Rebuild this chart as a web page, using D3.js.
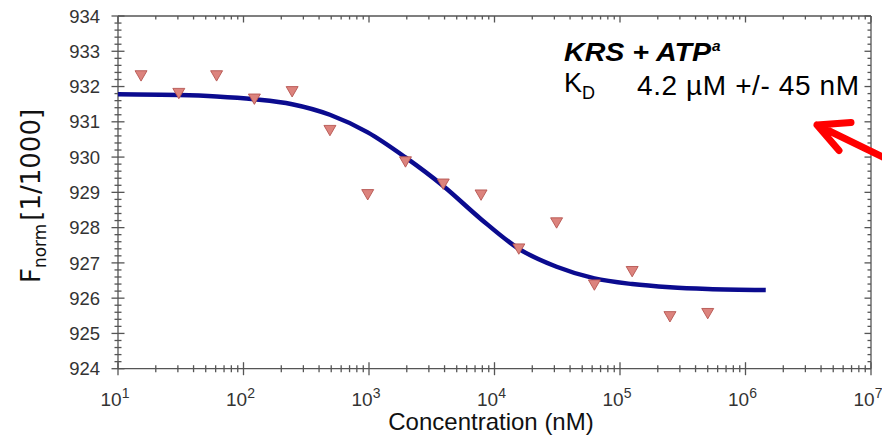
<!DOCTYPE html>
<html>
<head>
<meta charset="utf-8">
<script src="https://cdn.jsdelivr.net/npm/d3@7"></script>
<style>
  html, body { margin: 0; padding: 0; background: #fff; }
  svg { display: block; }
</style>
</head>
<body>
<svg id="chart" width="882" height="444"></svg>
<script>
// Ligand concentrations (nM) of the 1:1 dilution series
const concentrations = [15.26, 30.52, 61.04, 122.1, 244.1, 488.3, 976.6, 1953, 3906, 7813, 15625, 31250, 62500, 125000, 250000, 500000];
// Normalized fluorescence (per mille) measured at each concentration
const fnormValues = [932.35, 931.85, 932.35, 931.69, 931.90, 930.80, 928.98, 929.91, 929.28, 928.97, 927.44, 928.18, 926.42, 926.80, 925.52, 925.61];

// Fitted binding curve (concentration nM, Fnorm)
const fitConc = [10, 30.5, 61, 122, 244, 488, 977, 1953, 3906, 7813, 15625, 31250, 62500, 125000, 250000, 500000, 1450000];
const fitValue = [931.78, 931.76, 931.72, 931.64, 931.50, 931.20, 930.70, 929.99, 929.18, 928.24, 927.40, 926.89, 926.56, 926.40, 926.31, 926.26, 926.23];

// Axis ticks
const xDecades = [1, 2, 3, 4, 5, 6, 7];
const yTicks = [924, 925, 926, 927, 928, 929, 930, 931, 932, 933, 934];

const titleText = "KRS + ATP";
const titleSup = "a";
const kdLabel = "4.2 µM +/- 45 nM";

const svg = d3.select("#chart");

const x = d3.scaleLog().domain([10, 1e7]).range([118, 871]);
const y = d3.scaleLinear().domain([924, 934]).range([368.7, 16]);

const axisColor = "#555";
const labelColor = "#333";
const font = "'Liberation Sans', Arial, sans-serif";

// minor ticks on the log axis (2..9 × each decade)
const xMinor = [];
for (let d = 1; d < 7; d++) for (let m = 2; m <= 9; m++) xMinor.push(m * Math.pow(10, d));
const xMajor = xDecades.map(e => Math.pow(10, e));
const yMinor = d3.range(924, 934.001, 0.2).filter(v => Math.abs(v - Math.round(v)) > 1e-6);

const [x0, x1] = x.range();
const [yb, yt] = y.range();

const frame = svg.append("g").attr("stroke", axisColor).attr("stroke-width", 1.3).attr("fill", "none");
// frame lines
frame.append("line").attr("x1", x0).attr("x2", x1).attr("y1", yb).attr("y2", yb);
frame.append("line").attr("x1", x0).attr("x2", x1).attr("y1", yt).attr("y2", yt);
frame.append("line").attr("x1", x0).attr("x2", x0).attr("y1", yt).attr("y2", yb);
frame.append("line").attr("x1", x1).attr("x2", x1).attr("y1", yt).attr("y2", yb);

// bottom ticks: cross the axis
frame.selectAll(null).data(xMinor).join("line")
  .attr("x1", d => x(d)).attr("x2", d => x(d)).attr("y1", yb - 3.5).attr("y2", yb + 3.5);
frame.selectAll(null).data(xMajor).join("line")
  .attr("x1", d => x(d)).attr("x2", d => x(d)).attr("y1", yb - 6.5).attr("y2", yb + 6.5);
// top ticks: inward
frame.selectAll(null).data(xMinor).join("line")
  .attr("x1", d => x(d)).attr("x2", d => x(d)).attr("y1", yt).attr("y2", yt + 3.5);
frame.selectAll(null).data(xMajor).join("line")
  .attr("x1", d => x(d)).attr("x2", d => x(d)).attr("y1", yt).attr("y2", yt + 6.5);
// left ticks: cross the axis
frame.selectAll(null).data(yMinor).join("line")
  .attr("y1", d => y(d)).attr("y2", d => y(d)).attr("x1", x0 - 3.5).attr("x2", x0 + 3.5);
frame.selectAll(null).data(yTicks).join("line")
  .attr("y1", d => y(d)).attr("y2", d => y(d)).attr("x1", x0 - 6.5).attr("x2", x0 + 6.5);
// right ticks: inward
frame.selectAll(null).data(yMinor).join("line")
  .attr("y1", d => y(d)).attr("y2", d => y(d)).attr("x1", x1 - 3.5).attr("x2", x1);
frame.selectAll(null).data(yTicks).join("line")
  .attr("y1", d => y(d)).attr("y2", d => y(d)).attr("x1", x1 - 6.5).attr("x2", x1);

// y tick labels
svg.append("g").selectAll("text").data(yTicks).join("text")
  .attr("x", 100).attr("y", d => y(d)).attr("dy", "0.36em")
  .attr("text-anchor", "end")
  .attr("font-family", font).attr("font-size", 18.5).attr("fill", labelColor)
  .text(d => d);

// x tick labels: 10^n
const xl = svg.append("g").selectAll("text").data(xDecades).join("text")
  .attr("x", d => x(Math.pow(10, d)) - 3).attr("y", 406)
  .attr("text-anchor", "middle")
  .attr("font-family", font).attr("font-size", 19).attr("fill", labelColor);
xl.append("tspan").text("10");
xl.append("tspan").attr("font-size", 14).attr("dy", -8).text(d => d);

// axis titles
svg.append("text")
  .attr("x", 491).attr("y", 430).attr("text-anchor", "middle")
  .attr("font-family", font).attr("font-size", 24).attr("fill", "#111")
  .text("Concentration (nM)");

const yTitle = svg.append("text")
  .attr("transform", "translate(40,196) rotate(-90)")
  .attr("text-anchor", "middle")
  .attr("font-family", "'DejaVu Sans', sans-serif").attr("font-size", 26).attr("fill", "#111");
yTitle.append("tspan").text("F");
yTitle.append("tspan").attr("font-size", 17).attr("dy", 6).text("norm");
yTitle.append("tspan").attr("dy", -6).attr("dx", 3).text("[1/1000]");

// fitted curve
const line = d3.line()
  .x((d, i) => x(fitConc[i]))
  .y(d => y(d))
  .curve(d3.curveMonotoneX);
svg.append("path")
  .datum(fitValue)
  .attr("d", line)
  .attr("fill", "none")
  .attr("stroke", "#0b0b8f")
  .attr("stroke-width", 4.5);

// data points: downward triangles
const tri = d3.symbol().type(d3.symbolTriangle).size(62);
svg.append("g").selectAll("path").data(fnormValues).join("path")
  .attr("d", tri)
  .attr("transform", (d, i) => `translate(${x(concentrations[i])},${y(d)}) rotate(180)`)
  .attr("fill", "#dc837d")
  .attr("stroke", "#b65550")
  .attr("stroke-width", 0.9);

// annotation text
const t1 = svg.append("text")
  .attr("transform", "translate(564,61) scale(1.1,1)")
  .attr("font-family", font).attr("font-size", 26)
  .attr("font-weight", "bold").attr("font-style", "italic").attr("fill", "#000");
t1.append("tspan").text(titleText);
t1.append("tspan").attr("font-size", 14).attr("dy", -10).attr("dx", 1).text(titleSup);

const t2 = svg.append("text")
  .attr("x", 564).attr("y", 92)
  .attr("font-family", font).attr("font-size", 27).attr("fill", "#000");
t2.append("tspan").text("K");
t2.append("tspan").attr("font-size", 18).attr("dy", 7).text("D");
svg.append("text")
  .attr("x", 637).attr("y", 95)
  .attr("font-family", font).attr("font-size", 28).attr("letter-spacing", 0.6).attr("fill", "#000")
  .text(kdLabel);

// red pointer arrow
svg.append("path")
  .attr("d", "M895,163 L817,125 M851,122.5 L817,125 L839,150.5")
  .attr("fill", "none")
  .attr("stroke", "#ff0000")
  .attr("stroke-width", 7)
  .attr("stroke-linecap", "round")
  .attr("stroke-linejoin", "round");
</script>
</body>
</html>
